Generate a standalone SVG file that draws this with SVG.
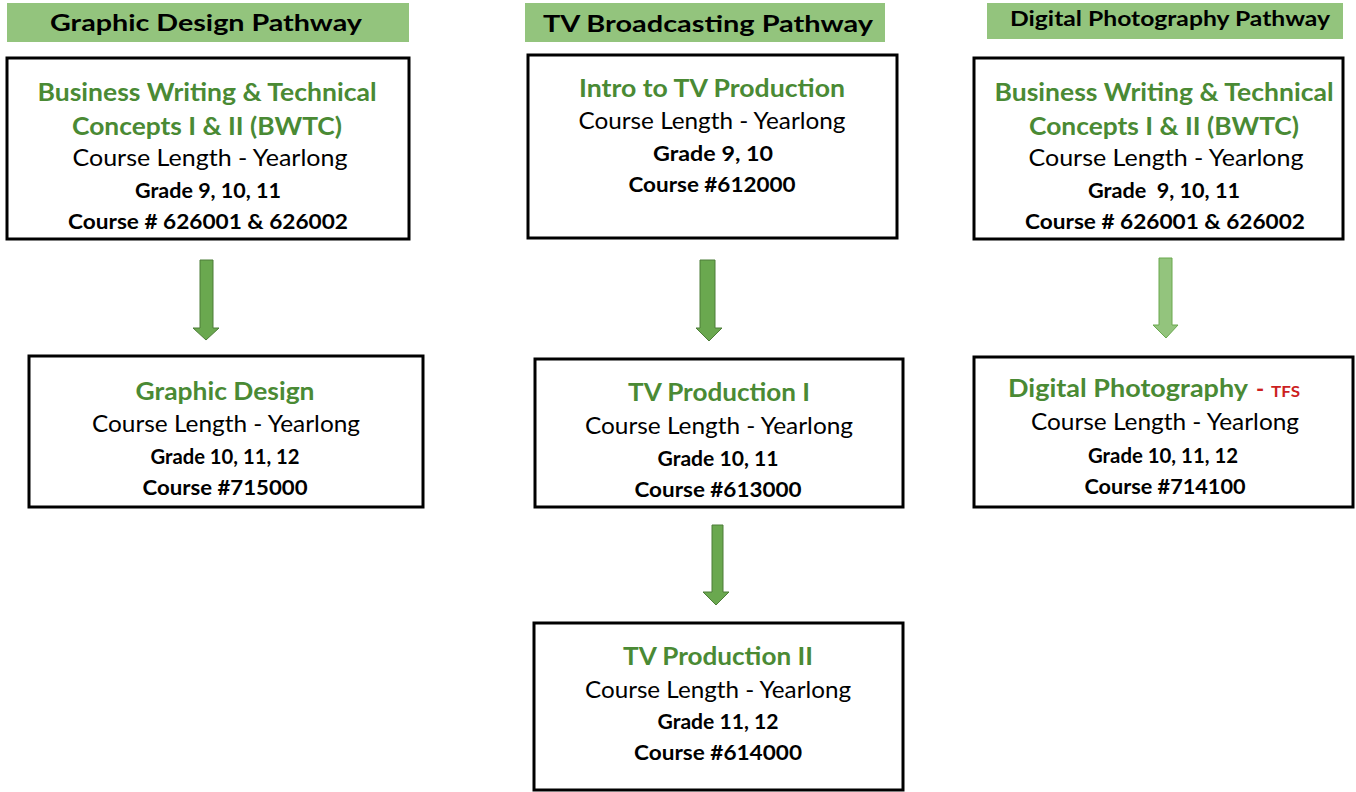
<svg xmlns="http://www.w3.org/2000/svg" width="1356" height="792" viewBox="0 0 1356 792">
<style>
.hdr{fill:#93c47d}
.box{fill:#fff;stroke:#000;stroke-width:3}
text{font-family:Lato,"Open Sans","Liberation Sans",sans-serif;text-anchor:middle}
.h{font-size:23px;font-weight:bold;fill:#000}
.t{font-size:24px;font-weight:bold;fill:#4a8a34}
.r{font-size:23px;fill:#000}
.b{font-size:21px;font-weight:bold;fill:#000}
.red{font-weight:bold;fill:#cc1f1f}
.arr{fill:#6aa84f;stroke:#4d7d38;stroke-width:1}
.arrl{fill:#93c47d;stroke:#6aa84f;stroke-width:1}
</style>
<rect width="1356" height="792" fill="#fff"/>
<g id="hdr-graphic"><rect class="hdr" x="7" y="3" width="402" height="39"/><text class="h" x="206" y="31" textLength="312" lengthAdjust="spacingAndGlyphs">Graphic Design Pathway</text></g>
<g id="hdr-tv"><rect class="hdr" x="525" y="3" width="360" height="39"/><text class="h" x="708" y="32" textLength="330" lengthAdjust="spacingAndGlyphs">TV Broadcasting Pathway</text></g>
<g id="hdr-photo"><rect class="hdr" x="987" y="3" width="356" height="36"/><text class="h" x="1170" y="26" style="font-size:20px" textLength="320" lengthAdjust="spacingAndGlyphs">Digital Photography Pathway</text></g>

<g id="connectors">
<path class="arr" d="M200,260 H213 V328 H219 L206,340 L193,328 H200 Z"/>
<path class="arr" d="M700,260 H715 V328 H722 L709,341 L696,328 H700 Z"/>
<path class="arr" d="M712,525 H723 V592 H729 L716,605 L703,592 H712 Z"/>
<path class="arrl" d="M1159,258 H1172 V325 H1178 L1166,338 L1153,325 H1159 Z"/>
</g>

<g id="bwtc-left"><rect class="box" x="7" y="58" width="402" height="181"/>
<text class="t" x="207" y="101" textLength="339" lengthAdjust="spacingAndGlyphs">Business Writing &amp; Technical</text>
<text class="t" x="207" y="135" textLength="270" lengthAdjust="spacingAndGlyphs">Concepts I &amp; II (BWTC)</text>
<text class="r" x="210" y="166" textLength="275" lengthAdjust="spacingAndGlyphs">Course Length - Yearlong</text>
<text class="b" x="208" y="198" textLength="146" lengthAdjust="spacingAndGlyphs">Grade 9, 10, 11</text>
<text class="b" x="208" y="229" textLength="280" lengthAdjust="spacingAndGlyphs">Course # 626001 &amp; 626002</text>
</g>

<g id="intro-tv"><rect class="box" x="528" y="55" width="369" height="183"/>
<text class="t" x="712" y="97" textLength="266" lengthAdjust="spacingAndGlyphs">Intro to TV Production</text>
<text class="r" x="712" y="129" textLength="267" lengthAdjust="spacingAndGlyphs">Course Length - Yearlong</text>
<text class="b" x="713" y="161" textLength="120" lengthAdjust="spacingAndGlyphs">Grade 9, 10</text>
<text class="b" x="712" y="192" textLength="167" lengthAdjust="spacingAndGlyphs">Course #612000</text>
</g>

<g id="bwtc-right"><rect class="box" x="974" y="58" width="369" height="181"/>
<text class="t" x="1164" y="101" textLength="339" lengthAdjust="spacingAndGlyphs">Business Writing &amp; Technical</text>
<text class="t" x="1164" y="135" textLength="270" lengthAdjust="spacingAndGlyphs">Concepts I &amp; II (BWTC)</text>
<text class="r" x="1166" y="166" textLength="275" lengthAdjust="spacingAndGlyphs">Course Length - Yearlong</text>
<text class="b" x="1164" y="198" xml:space="preserve" textLength="152" lengthAdjust="spacingAndGlyphs">Grade  9, 10, 11</text>
<text class="b" x="1165" y="229" textLength="280" lengthAdjust="spacingAndGlyphs">Course # 626001 &amp; 626002</text>
</g>

<g id="graphic-design"><rect class="box" x="29" y="356" width="394" height="151"/>
<text class="t" x="225" y="400" textLength="179" lengthAdjust="spacingAndGlyphs">Graphic Design</text>
<text class="r" x="226" y="432" textLength="268" lengthAdjust="spacingAndGlyphs">Course Length - Yearlong</text>
<text class="b" x="225" y="464" textLength="149" lengthAdjust="spacingAndGlyphs">Grade 10, 11, 12</text>
<text class="b" x="225" y="495" textLength="165" lengthAdjust="spacingAndGlyphs">Course #715000</text>
</g>

<g id="tv-prod-1"><rect class="box" x="535" y="359" width="368" height="148"/>
<text class="t" x="719" y="401" textLength="182" lengthAdjust="spacingAndGlyphs">TV Production I</text>
<text class="r" x="719" y="434" textLength="268" lengthAdjust="spacingAndGlyphs">Course Length - Yearlong</text>
<text class="b" x="718" y="466" textLength="121" lengthAdjust="spacingAndGlyphs">Grade 10, 11</text>
<text class="b" x="718" y="497" textLength="167" lengthAdjust="spacingAndGlyphs">Course #613000</text>
</g>

<g id="tv-prod-2"><rect class="box" x="534" y="623" width="369" height="167"/>
<text class="t" x="718" y="665" textLength="190" lengthAdjust="spacingAndGlyphs">TV Production II</text>
<text class="r" x="718" y="698" textLength="266" lengthAdjust="spacingAndGlyphs">Course Length - Yearlong</text>
<text class="b" x="718" y="729" textLength="121" lengthAdjust="spacingAndGlyphs">Grade 11, 12</text>
<text class="b" x="718" y="760" textLength="168" lengthAdjust="spacingAndGlyphs">Course #614000</text>
</g>

<g id="digital-photo"><rect class="box" x="974" y="357" width="379" height="150"/>
<text class="t" x="1008" y="397" style="text-anchor:start" textLength="240" lengthAdjust="spacingAndGlyphs">Digital Photography</text>
<text class="red" x="1260" y="397" style="font-size:22px">-</text>
<text class="red" x="1271" y="397" style="font-size:15px;text-anchor:start" textLength="29" lengthAdjust="spacingAndGlyphs">TFS</text>
<text class="r" x="1165" y="430" textLength="268" lengthAdjust="spacingAndGlyphs">Course Length - Yearlong</text>
<text class="b" x="1163" y="463" textLength="150" lengthAdjust="spacingAndGlyphs">Grade 10, 11, 12</text>
<text class="b" x="1165" y="494" textLength="161" lengthAdjust="spacingAndGlyphs">Course #714100</text>
</g>
</svg>
